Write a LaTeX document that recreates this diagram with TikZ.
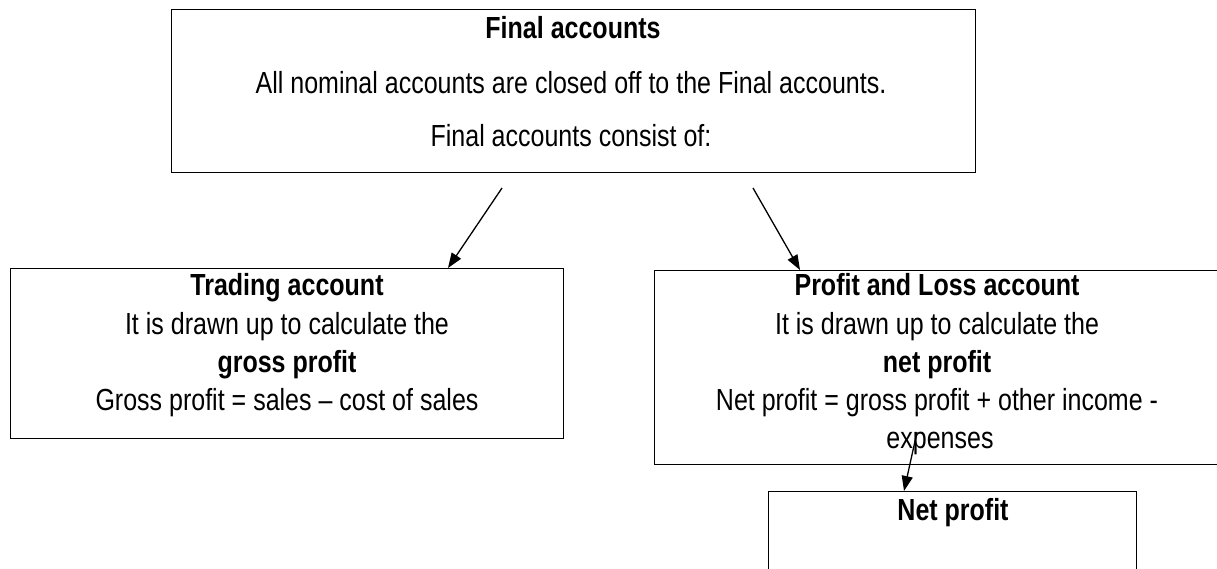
\documentclass[tikz,border=0pt]{standalone}
\usepackage{fontspec}
\setmainfont{Liberation Sans}[FakeStretch=0.82]
\usetikzlibrary{arrows.meta,calc}
\begin{document}
\begin{tikzpicture}[x=1pt,y=-1pt,
  box/.style={draw, line width=1.2pt, inner sep=0pt, anchor=north west},
  txt/.style={inner sep=0pt, anchor=base, font=\fontsize{30.5}{35}\selectfont},
  btxt/.style={inner sep=0pt, anchor=base, font=\fontsize{30.5}{35}\selectfont\bfseries},
  arr/.style={line width=1.3pt, -{Triangle[length=15pt,width=11pt]}}]
\useasboundingbox (0,0) rectangle (1217,568);
\clip (0,0) rectangle (1217,568);
% boxes
\node[box, minimum width=804pt, minimum height=163pt] (final) at (171,9) {};
\node[box, minimum width=553pt, minimum height=170pt] (trading) at (10,268) {};
\node[box, minimum width=570pt, minimum height=194pt] (pl) at (654,270) {};
\node[box, minimum width=368pt, minimum height=120pt] (net) at (768,491) {};
% texts
\node[btxt] (finalT) at (573,38) {Final accounts};
\node[txt] (finalA) at (571,93) {All nominal accounts are closed off to the Final accounts.};
\node[txt] (finalB) at (571,146) {Final accounts consist of:};
\node[btxt] (tradT) at (287,295) {Trading account};
\node[txt] (tradA) at (287,334) {It is drawn up to calculate the};
\node[btxt] (tradB) at (287,372) {gross profit};
\node[txt] (tradC) at (287,410) {Gross profit = sales – cost of sales};
\node[btxt] (plT) at (937,295) {Profit and Loss account};
\node[txt] (plA) at (937,334) {It is drawn up to calculate the};
\node[btxt] (plB) at (937,372) {net profit};
\node[txt] (plC) at (937,410) {Net profit = gross profit + other income -};
\node[txt] (plD) at (940,448) {expenses};
\node[btxt] (netT) at (953,520) {Net profit};
% connectors
\coordinate (s1) at (502,188);
\coordinate (e1) at (448,268);
\coordinate (s2) at (753,188);
\coordinate (e2) at (800,270);
\coordinate (s3) at (917,432);
\coordinate (e3) at (904,491);
\draw[arr] (s1) -- (e1);
\draw[arr] (s2) -- (e2);
\draw[arr] (s3) -- (e3);
\end{tikzpicture}
\end{document}
